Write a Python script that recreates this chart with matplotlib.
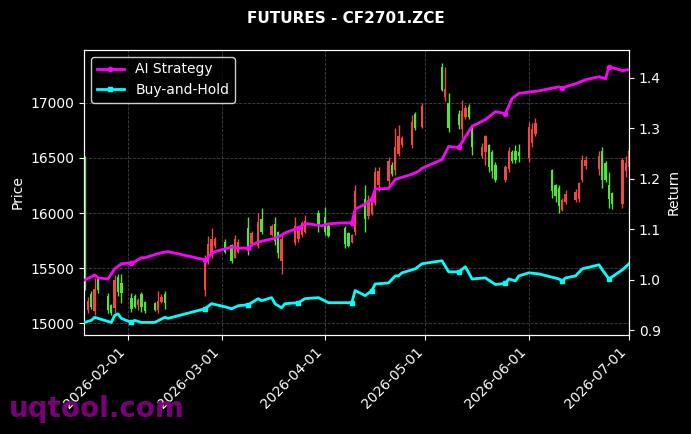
import pandas as pd
import matplotlib
matplotlib.use("Agg")
import matplotlib.pyplot as plt
import matplotlib.dates as mdates


# daily candles
dates = [
    "2026-01-19", "2026-01-20", "2026-01-21", "2026-01-22", "2026-01-23", "2026-01-26", "2026-01-27", "2026-01-28", "2026-01-29", "2026-01-30",
    "2026-02-02", "2026-02-03", "2026-02-04", "2026-02-05", "2026-02-06", "2026-02-09", "2026-02-10", "2026-02-11", "2026-02-12",
    "2026-02-24", "2026-02-25", "2026-02-26", "2026-02-27", "2026-03-02", "2026-03-04", "2026-03-05", "2026-03-06", "2026-03-09", "2026-03-10", "2026-03-12", "2026-03-13",
    "2026-03-16", "2026-03-17", "2026-03-18", "2026-03-19", "2026-03-23", "2026-03-24", "2026-03-25", "2026-03-26", "2026-03-30", "2026-04-01", "2026-04-02",
    "2026-04-07", "2026-04-08", "2026-04-09", "2026-04-10", "2026-04-13", "2026-04-14", "2026-04-15", "2026-04-16", "2026-04-17", "2026-04-20", "2026-04-21",
    "2026-04-22", "2026-04-23", "2026-04-24", "2026-04-27", "2026-04-28", "2026-04-30",
    "2026-05-06", "2026-05-07", "2026-05-08", "2026-05-11", "2026-05-12", "2026-05-13", "2026-05-14", "2026-05-15", "2026-05-18", "2026-05-19", "2026-05-20",
    "2026-05-21", "2026-05-22", "2026-05-25", "2026-05-26", "2026-05-27", "2026-05-28", "2026-05-29",
    "2026-06-01", "2026-06-02", "2026-06-03", "2026-06-08", "2026-06-09", "2026-06-10", "2026-06-11", "2026-06-12", "2026-06-15", "2026-06-16", "2026-06-17",
    "2026-06-18", "2026-06-22", "2026-06-23", "2026-06-24", "2026-06-25", "2026-06-26", "2026-06-29", "2026-06-30", "2026-07-01",
]
opens = [
    16500, 15120, 15260, 15110, 15400, 15250, 15160, 15140, 15420, 15360,
    15230, 15250, 15160, 15260, 15190, 15180, 15120, 15190, 15260,
    15300, 15560, 15620, 15700, 15740, 15710, 15590, 15650, 15860, 15720, 15700, 15950,
    15800, 15900, 15830, 15560, 15730, 15760, 15800, 15830, 16000, 15960, 15880,
    15860, 15820, 15740, 15830, 16130, 15970, 15990, 16090, 16250, 16290, 16440,
    16390, 16540, 16620, 16620, 16900, 16780,
    17330, 17050, 17000, 16900, 16760, 16870, 16960, 16770, 16520, 16550, 16620,
    16550, 16440, 16300, 16400, 16550, 16560, 16550,
    16500, 16640, 16720, 16390, 16250, 16230, 16030, 16100, 16120, 16130, 16300,
    16430, 16400, 16560, 16450, 16250, 16180, 16080, 16380, 16420,
]
highs = [
    16520, 15240, 15290, 15410, 15420, 15270, 15170, 15440, 15450, 15450,
    15270, 15260, 15230, 15280, 15200, 15190, 15290, 15260, 15290,
    15620, 15790, 15860, 15780, 15760, 15720, 15800, 15760, 15964, 15840, 16000, 16045,
    15900, 15960, 15840, 15800, 15960, 15880, 15930, 15980, 16030, 16055, 15900,
    15880, 15830, 15810, 16255, 16255, 16165, 16110, 16418, 16420, 16510, 16460,
    16773, 16800, 16700, 16890, 16920, 17000,
    17364, 17330, 17090, 16940, 17030, 16980, 16990, 16790, 16640, 16710, 16630,
    16570, 16460, 16440, 16600, 16570, 16620, 16630,
    16827, 16820, 16860, 16400, 16260, 16250, 16140, 16210, 16220, 16282, 16527,
    16520, 16560, 16600, 16470, 16370, 16190, 16500, 16520, 16590,
]
lows = [
    15300, 15090, 15130, 15073, 15270, 15090, 15070, 15090, 15250, 15180,
    15100, 15140, 15120, 15100, 15090, 15110, 15090, 15180, 15130,
    15250, 15540, 15590, 15680, 15640, 15550, 15590, 15640, 15620, 15700, 15680, 15810,
    15790, 15710, 15590, 15450, 15710, 15740, 15780, 15820, 15830, 15800, 15780,
    15680, 15690, 15730, 15800, 15830, 15950, 15980, 16070, 16200, 16255, 16340,
    16345, 16520, 16600, 16590, 16750, 16770,
    17110, 17020, 16736, 16760, 16680, 16850, 16850, 16527, 16500, 16440, 16370,
    16320, 16280, 16280, 16370, 16450, 16450, 16460,
    16464, 16600, 16700, 16136, 16100, 16000, 16020, 16080, 16100, 16100, 16282,
    16400, 16345, 16230, 16280, 16045, 16040, 16045, 16330, 16370,
]
closes = [
    15350, 15200, 15150, 15310, 15300, 15120, 15090, 15390, 15280, 15270,
    15130, 15150, 15210, 15150, 15110, 15120, 15200, 15240, 15180,
    15560, 15720, 15760, 15760, 15650, 15560, 15760, 15740, 15700, 15820, 15920, 15830,
    15880, 15750, 15640, 15760, 15880, 15850, 15910, 15930, 15880, 15830, 15790,
    15720, 15700, 15800, 16200, 15950, 16120, 16100, 16370, 16380, 16470, 16350,
    16600, 16700, 16680, 16830, 16770, 16970,
    17120, 17130, 16770, 16800, 16930, 16950, 16870, 16600, 16600, 16700, 16420,
    16380, 16300, 16420, 16560, 16470, 16480, 16520,
    16780, 16760, 16820, 16200, 16150, 16060, 16120, 16170, 16190, 16270, 16480,
    16480, 16520, 16300, 16300, 16130, 16080, 16480, 16450, 16560,
]

# cumulative return curves
ai_dates = [
    "2026-01-19", "2026-01-21", "2026-01-22", "2026-01-23", "2026-01-26", "2026-01-28", "2026-01-30",
    "2026-02-02", "2026-02-03", "2026-02-05", "2026-02-06", "2026-02-09", "2026-02-11", "2026-02-13",
    "2026-02-24", "2026-02-25", "2026-02-26", "2026-02-27", "2026-03-04", "2026-03-06", "2026-03-09",
    "2026-03-10", "2026-03-12", "2026-03-16", "2026-03-18", "2026-03-20", "2026-03-24", "2026-03-26",
    "2026-03-27", "2026-03-31", "2026-04-02", "2026-04-07", "2026-04-09", "2026-04-10", "2026-04-13",
    "2026-04-15", "2026-04-16", "2026-04-20", "2026-04-21", "2026-04-22", "2026-04-23", "2026-04-27",
    "2026-04-29", "2026-04-30", "2026-05-06", "2026-05-08", "2026-05-11", "2026-05-15", "2026-05-19",
    "2026-05-22", "2026-05-25", "2026-05-27", "2026-05-29", "2026-06-04", "2026-06-10", "2026-06-11",
    "2026-06-15", "2026-06-18", "2026-06-22", "2026-06-24", "2026-06-25", "2026-06-26", "2026-06-29",
    "2026-07-01",
]
ai_returns = [
    1.000, 1.006, 1.010, 1.004, 1.002, 1.022, 1.032,
    1.034, 1.036, 1.044, 1.044, 1.050, 1.054, 1.056,
    1.040, 1.044, 1.052, 1.056, 1.065, 1.063, 1.063,
    1.069, 1.075, 1.081, 1.085, 1.093, 1.103, 1.111,
    1.111, 1.107, 1.111, 1.113, 1.113, 1.140, 1.150,
    1.160, 1.180, 1.181, 1.189, 1.199, 1.201, 1.209,
    1.215, 1.221, 1.238, 1.264, 1.262, 1.304, 1.317,
    1.333, 1.329, 1.359, 1.369, 1.374, 1.382, 1.380,
    1.388, 1.396, 1.402, 1.398, 1.422, 1.420, 1.414,
    1.416,
]

bh_dates = [
    "2026-01-19", "2026-01-21", "2026-01-22", "2026-01-23", "2026-01-27", "2026-01-28", "2026-01-29", "2026-01-30",
    "2026-02-02", "2026-02-03", "2026-02-05", "2026-02-09", "2026-02-12", "2026-02-13",
    "2026-02-24", "2026-02-26", "2026-03-02", "2026-03-04", "2026-03-06", "2026-03-09", "2026-03-12",
    "2026-03-13", "2026-03-16", "2026-03-17", "2026-03-19", "2026-03-20", "2026-03-24", "2026-03-26",
    "2026-03-30", "2026-04-02", "2026-04-09", "2026-04-10", "2026-04-13", "2026-04-15", "2026-04-16",
    "2026-04-20", "2026-04-22", "2026-04-23", "2026-04-24", "2026-04-28", "2026-04-30", "2026-05-06",
    "2026-05-08", "2026-05-11", "2026-05-13", "2026-05-15", "2026-05-19", "2026-05-22", "2026-05-25",
    "2026-05-26", "2026-05-28", "2026-05-29", "2026-06-01", "2026-06-04", "2026-06-10", "2026-06-11",
    "2026-06-12", "2026-06-15", "2026-06-17", "2026-06-22", "2026-06-23", "2026-06-25", "2026-06-29",
    "2026-07-01",
]
bh_returns = [
    0.916, 0.920, 0.926, 0.924, 0.916, 0.930, 0.933, 0.924,
    0.916, 0.920, 0.916, 0.916, 0.926, 0.924,
    0.943, 0.953, 0.947, 0.943, 0.949, 0.951, 0.963,
    0.959, 0.965, 0.953, 0.945, 0.953, 0.955, 0.963,
    0.965, 0.955, 0.955, 0.979, 0.969, 0.979, 0.992,
    0.994, 1.008, 1.008, 1.014, 1.022, 1.032, 1.038,
    1.016, 1.016, 1.026, 1.002, 1.004, 0.991, 0.993,
    1.002, 0.998, 1.008, 1.014, 1.012, 1.002, 0.998,
    1.004, 1.008, 1.022, 1.030, 1.020, 1.002, 1.020,
    1.032,
]

# trade signal days (markers on the curves)
signal_dates = [
    "2026-02-02", "2026-02-24", "2026-03-09", "2026-03-24", "2026-04-09",
    "2026-04-15", "2026-05-11", "2026-05-25", "2026-06-11", "2026-06-25",
]

UP_COLOR = "#ea4a3f"
DOWN_COLOR = "#52e33c"

x = mdates.date2num(pd.to_datetime(dates))
ai_x = mdates.date2num(pd.to_datetime(ai_dates))
bh_x = mdates.date2num(pd.to_datetime(bh_dates))
ai_marks = [ai_dates.index(d) for d in signal_dates]
bh_marks = [bh_dates.index(d) for d in signal_dates]

fig = plt.figure(figsize=(6.91, 4.34), dpi=100, facecolor="black")
ax = fig.add_axes([0.1216, 0.228, 0.7887, 0.657])
ax.set_facecolor("black")

colors = [UP_COLOR if c >= o else DOWN_COLOR for o, c in zip(opens, closes)]
bottoms = [min(o, c) for o, c in zip(opens, closes)]
heights = [max(abs(c - o), 8) for o, c in zip(opens, closes)]

ax.vlines(x, lows, highs, colors=colors, linewidth=1.0, zorder=2)
ax.bar(x, heights, bottom=bottoms, width=0.7, color=colors, linewidth=0, zorder=3)

ax.set_ylim(14891, 17482)
ax.set_xlim(x[0] - 0.17, x[-1])
ax.set_ylabel("Price", color="white")

ax.grid(True, color="#555555", linestyle="--", linewidth=0.6, alpha=0.8)

ax.xaxis.set_major_locator(mdates.MonthLocator())
ax.xaxis.set_major_formatter(mdates.DateFormatter("%Y-%m-%d"))
plt.setp(ax.get_xticklabels(), rotation=45, ha="right")

ax2 = ax.twinx()
ax2.plot(ai_x, ai_returns, color="#ff00ff", linewidth=2, marker="o", markersize=3,
         markevery=ai_marks, label="AI Strategy", zorder=4)
ax2.plot(bh_x, bh_returns, color="#00ffff", linewidth=2, marker="s", markersize=3,
         markevery=bh_marks, label="Buy-and-Hold", zorder=4)
ax2.set_ylim(0.891, 1.455)
ax2.set_ylabel("Return", color="white")

for a in (ax, ax2):
    a.tick_params(colors="white", labelsize=10)
    for s in a.spines.values():
        s.set_color("white")

leg = ax2.legend(loc="upper left", facecolor="black", edgecolor="white", fontsize=10)
for t in leg.get_texts():
    t.set_color("white")

fig.suptitle("FUTURES - CF2701.ZCE", color="white", fontsize=11, fontweight="bold", y=0.975)

fig.text(0.013, 0.058, "uqtool.com", color="purple", fontsize=20, fontweight="bold",
         va="center", ha="left", alpha=0.95)

fig.savefig("out.png", dpi=100, facecolor="black")
plt.close()
